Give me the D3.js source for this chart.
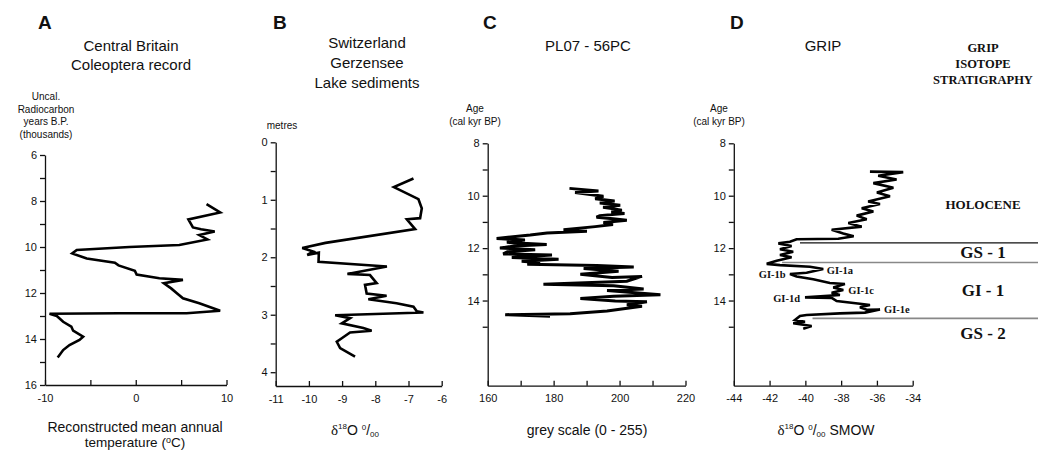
<!DOCTYPE html>
<html>
<head>
<meta charset="utf-8">
<script src="https://cdn.jsdelivr.net/npm/d3@7"></script>
<style>
  body { margin: 0; background: #fff; }
  svg { display: block; }
  text { font-family: "Liberation Sans", Arial, sans-serif; fill: #111; }
  .serif { font-family: "Liberation Serif", "Times New Roman", serif; font-weight: bold; }
</style>
</head>
<body>
<svg id="chart"></svg>
<script>
var width = 1038,
    height = 452;

// A - Central Britain coleoptera (temperature degC, age ka uncal)
var coleopteraTemp = [7.8, 9.3, 5.8, 6.3, 7.2, 8.7, 7.0, 7.9, 4.8, -0.7, -6.5, -7.0, -5.4, -2.3, -1.9, -0.1, 0.1, 2.6, 5.2, 3.1, 3.9, 4.5, 5.2, 7.0, 9.3, 5.6, -1.8, -9.5, -8.7, -8.0, -7.1, -6.9, -5.8, -6.2, -7.3, -8.0, -8.6];
var coleopteraAge = [8.14, 8.5, 8.8, 9.15, 9.23, 9.33, 9.48, 9.67, 9.91, 10.0, 10.13, 10.28, 10.5, 10.68, 10.8, 11.03, 11.2, 11.36, 11.43, 11.58, 11.8, 12.0, 12.23, 12.45, 12.77, 12.88, 12.88, 12.9, 13.0, 13.25, 13.46, 13.64, 13.9, 14.04, 14.26, 14.48, 14.8];

// B - Gerzensee (d18O permil, depth m)
var gerzenseeD18O = [-6.85, -7.44, -6.70, -6.60, -6.65, -7.05, -6.80, -9.50, -10.2, -9.87, -10.05, -9.70, -9.71, -7.65, -8.84, -8.16, -7.96, -8.31, -8.26, -7.66, -8.21, -7.36, -6.85, -6.75, -6.55, -9.21, -8.76, -9.01, -8.36, -8.11, -8.76, -9.01, -9.16, -9.06, -8.61];
var gerzenseeDepth = [0.63, 0.78, 0.99, 1.15, 1.32, 1.34, 1.51, 1.75, 1.84, 1.90, 1.96, 1.92, 2.08, 2.16, 2.29, 2.31, 2.45, 2.48, 2.63, 2.67, 2.73, 2.80, 2.86, 2.94, 2.96, 3.01, 3.06, 3.15, 3.23, 3.28, 3.31, 3.41, 3.47, 3.58, 3.73];

// C - PL07-56PC (grey scale, age cal ka)
var greyScale = [184.8, 193.6, 186.5, 195.1, 192.6, 198.5, 194, 200.2, 195, 200.7, 197.5, 201.5, 194, 193, 198, 202.2, 195.1, 198, 192.6, 183, 190.1, 178, 172.9, 162.7, 171.3, 165.8, 177.9, 168, 163.7, 174.4, 166, 164.7, 179.5, 167.3, 181.5, 170.3, 175.9, 172, 193.1, 204.3, 189.1, 199.7, 188.1, 197.7, 206.8, 202.2, 176.9, 198.2, 207.3, 196.2, 212.4, 198.2, 188.1, 198.7, 208.3, 202.2, 206.8, 196.2, 185, 165.3, 178.9];
var greyAge = [9.72, 9.82, 9.88, 10.02, 10.12, 10.2, 10.28, 10.36, 10.44, 10.55, 10.62, 10.68, 10.76, 10.82, 10.88, 10.94, 11.02, 11.1, 11.18, 11.3, 11.36, 11.42, 11.5, 11.63, 11.69, 11.78, 11.86, 11.92, 12.0, 12.06, 12.14, 12.22, 12.26, 12.36, 12.42, 12.5, 12.56, 12.62, 12.66, 12.72, 12.78, 12.88, 13.0, 13.12, 13.08, 13.26, 13.38, 13.44, 13.56, 13.62, 13.78, 13.84, 13.92, 14.02, 14.05, 14.16, 14.22, 14.4, 14.5, 14.54, 14.6];

// D - GRIP (d18O permil SMOW, age cal ka)
var gripD18O = [-36.39, -34.53, -35.93, -34.9, -36.2, -35.08, -36.0, -35.27, -36.49, -35.83, -36.85, -36.2, -37.13, -36.57, -37.6, -36.85, -38.53, -37.88, -37.3, -38.16, -40.49, -40.86, -41.51, -40.77, -41.42, -40.68, -41.42, -40.77, -41.6, -42.16, -41.42, -39.74, -39.0, -39.93, -40.86, -40.49, -39.56, -38.63, -37.79, -38.44, -37.88, -38.53, -38.07, -40.02, -38.53, -38.25, -36.95, -36.39, -36.95, -36.57, -35.83, -36.67, -38.07, -39.93, -40.3, -40.58, -40.02, -40.68, -39.65, -40.12];
var gripAge = [9.08, 9.1, 9.24, 9.38, 9.52, 9.7, 9.88, 10.02, 10.22, 10.32, 10.48, 10.6, 10.76, 10.9, 11.04, 11.18, 11.3, 11.44, 11.55, 11.64, 11.66, 11.76, 11.82, 11.92, 12.04, 12.14, 12.26, 12.35, 12.48, 12.6, 12.65, 12.71, 12.8, 12.94, 12.99, 13.08, 13.19, 13.33, 13.37, 13.5, 13.6, 13.7, 13.79, 13.88, 13.9, 14.02, 14.12, 14.17, 14.26, 14.35, 14.34, 14.46, 14.49, 14.55, 14.59, 14.74, 14.81, 14.87, 14.97, 15.08];

// GRIP event stratigraphy
var boundaryAges = [11.8, 12.55, 14.68];
var boundaryStart = [-40.3, -41.3, -39.6];
var stageNames = ["HOLOCENE", "GS - 1", "GI - 1", "GS - 2"];
var stageAges = [10.35, 12.15, 13.6, 15.25];
var eventNames = ["GI-1a", "GI-1b", "GI-1c", "GI-1d", "GI-1e"];
var eventX = [-38.8, -41.1, -37.6, -40.3, -35.6];
var eventAge = [12.85, 13.0, 13.62, 13.9, 14.33];
var eventSide = ["start", "end", "start", "end", "start"];

var svg = d3.select("#chart").attr("width", width).attr("height", height);

function zip(a, b) {
  var out = [];
  for (var i = 0; i < a.length; i++) out.push([a[i], b[i]]);
  return out;
}

function drawPanel(p) {
  var x = d3.scaleLinear().domain(p.xDomain).range(p.xRange);
  var y = d3.scaleLinear().domain(p.yDomain).range(p.yRange);
  var g = svg.append("g");

  var yAxis = d3.axisLeft(y)
    .tickValues(p.yTicks)
    .tickSizeInner(5).tickSizeOuter(0).tickPadding(3)
    .tickFormat(function(d) { return p.yLabels.indexOf(d) >= 0 ? d : ""; });
  var xAxis = d3.axisBottom(x)
    .tickValues(p.xTicks)
    .tickSizeInner(-5).tickSizeOuter(0).tickPadding(9)
    .tickFormat(function(d) { return p.xLabels.indexOf(d) >= 0 ? d : ""; });

  g.append("g").attr("transform", "translate(" + p.xRange[0] + ",0)").call(yAxis);
  g.append("g").attr("transform", "translate(0," + p.yRange[1] + ")").call(xAxis);
  g.selectAll(".domain, .tick line").attr("stroke", "#111").attr("stroke-width", 1.3);
  g.selectAll(".tick text").attr("font-size", 11).attr("fill", "#111")
    .attr("font-family", "Liberation Sans, Arial, sans-serif");

  var line = d3.line().x(function(d) { return x(d[0]); }).y(function(d) { return y(d[1]); });
  g.append("path")
    .datum(zip(p.xs, p.ys))
    .attr("d", line)
    .attr("fill", "none")
    .attr("stroke", "#000")
    .attr("stroke-width", p.lw)
    .attr("stroke-linejoin", "miter")
    .attr("stroke-miterlimit", 3);
  return { x: x, y: y, g: g };
}

function textLines(lines, cx, y0, dy, size, cls) {
  lines.forEach(function(t, i) {
    svg.append("text").attr("x", cx).attr("y", y0 + i * dy)
      .attr("text-anchor", "middle").attr("font-size", size)
      .attr("class", cls || null).text(t);
  });
}

function panelLetter(t, x) {
  svg.append("text").attr("x", x).attr("y", 29).attr("font-size", 19)
    .attr("font-weight", "bold").text(t);
}

function deltaLabel(cx, yy, suffix) {
  var t = svg.append("text").attr("x", cx).attr("y", yy).attr("text-anchor", "middle").attr("font-size", 14);
  t.append("tspan").attr("font-family", "Liberation Serif, serif").attr("font-size", 15).text("δ");
  t.append("tspan").attr("font-size", 8).attr("dy", -6).text("18");
  t.append("tspan").attr("dy", 6).text("O ");
  t.append("tspan").attr("font-size", 8).attr("dy", -5).text("0");
  t.append("tspan").attr("dy", 5).text("/");
  t.append("tspan").attr("font-size", 8).attr("dy", 2).text("00");
  if (suffix) t.append("tspan").attr("dy", -2).text(" " + suffix);
}

// Panel A
drawPanel({
  xDomain: [-10, 10], xRange: [45, 226.5],
  yDomain: [6, 16], yRange: [155, 385],
  yTicks: d3.range(6, 17, 1), yLabels: [6, 8, 10, 12, 14, 16],
  xTicks: [-10, -5, 0, 5, 10], xLabels: [-10, 0, 10],
  xs: coleopteraTemp, ys: coleopteraAge, lw: 2.6
});
panelLetter("A", 38);
textLines(["Central Britain", "Coleoptera record"], 131, 51, 19, 15);
textLines(["Uncal.", "Radiocarbon", "years B.P.", "(thousands)"], 46, 100, 12.5, 10);
textLines(["Reconstructed mean annual"], 135, 432, 18, 14);
var tempLabel = svg.append("text").attr("x", 135).attr("y", 447)
  .attr("text-anchor", "middle").attr("font-size", 13.5);
tempLabel.append("tspan").text("temperature  (");
tempLabel.append("tspan").attr("font-size", 9).attr("dy", -4).text("o");
tempLabel.append("tspan").attr("dy", 4).text("C)");

// Panel B
drawPanel({
  xDomain: [-11, -6], xRange: [275.7, 441.7],
  yDomain: [0, 4.24], yRange: [142.3, 386],
  yTicks: d3.range(0, 4.01, 0.5), yLabels: [0, 1, 2, 3, 4],
  xTicks: [-11, -10, -9, -8, -7, -6], xLabels: [-11, -10, -9, -8, -7, -6],
  xs: gerzenseeD18O, ys: gerzenseeDepth, lw: 2.6
});
panelLetter("B", 273);
textLines(["Switzerland", "Gerzensee", "Lake sediments"], 367, 48, 20, 15);
textLines(["metres"], 282, 129, 12, 10);
deltaLabel(355, 435);

// Panel C
drawPanel({
  xDomain: [160, 220], xRange: [487.7, 685.5],
  yDomain: [8, 17.25], yRange: [143.3, 385.7],
  yTicks: d3.range(8, 16, 1), yLabels: [8, 10, 12, 14],
  xTicks: d3.range(160, 221, 10), xLabels: [160, 180, 200, 220],
  xs: greyScale, ys: greyAge, lw: 3
});
panelLetter("C", 483);
textLines(["PL07 - 56PC"], 588, 51, 19, 15);
textLines(["Age", "(cal kyr BP)"], 475, 112, 13, 10);
textLines(["grey scale (0 - 255)"], 587, 435, 18, 14);

// Panel D
var d = drawPanel({
  xDomain: [-44, -34], xRange: [733.8, 912.7],
  yDomain: [8, 17.25], yRange: [143.3, 385.7],
  yTicks: d3.range(8, 16, 1), yLabels: [8, 10, 12, 14],
  xTicks: d3.range(-44, -33, 2), xLabels: d3.range(-44, -33, 2),
  xs: gripD18O, ys: gripAge, lw: 2.6
});
panelLetter("D", 730);
textLines(["GRIP"], 823, 51, 19, 15);
textLines(["Age", "(cal kyr BP)"], 719, 112, 13, 10);
deltaLabel(826, 435, "SMOW");

boundaryAges.forEach(function(a, i) {
  svg.append("line")
    .attr("x1", d.x(boundaryStart[i])).attr("x2", width)
    .attr("y1", d.y(a)).attr("y2", d.y(a))
    .attr("stroke", i === 0 ? "#111" : "#888")
    .attr("stroke-width", i === 0 ? 1.2 : 1.6);
});

stageNames.forEach(function(s, i) {
  svg.append("text").attr("class", "serif")
    .attr("x", 983).attr("y", d.y(stageAges[i]))
    .attr("dy", "0.35em").attr("text-anchor", "middle")
    .attr("font-size", i === 0 ? 13 : 17).text(s);
});

eventNames.forEach(function(s, i) {
  svg.append("text").attr("class", "serif")
    .attr("x", d.x(eventX[i])).attr("y", d.y(eventAge[i]))
    .attr("dy", "0.35em").attr("text-anchor", eventSide[i])
    .attr("font-size", 10.5).text(s);
});

textLines(["GRIP", "ISOTOPE", "STRATIGRAPHY"], 983, 52, 16, 12.5, "serif");
</script>
</body>
</html>
